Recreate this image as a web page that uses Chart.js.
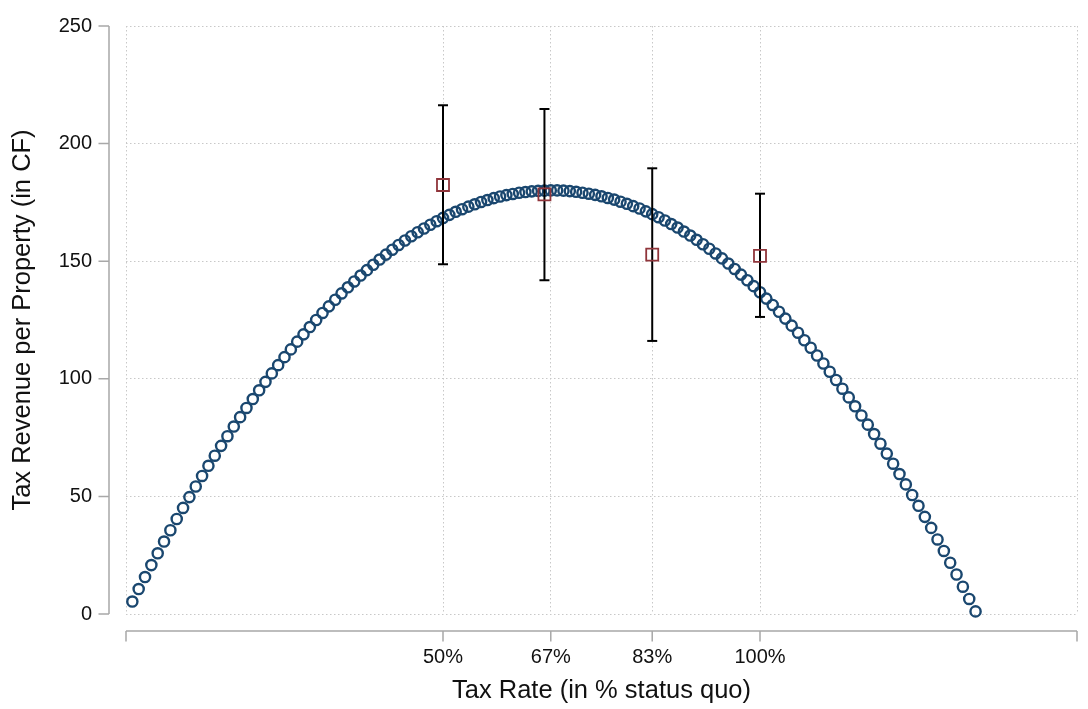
<!DOCTYPE html>
<html lang="en">
<head>
    <meta charset="UTF-8">
    <title>Tax Revenue vs Tax Rate</title>
    <script src="https://cdn.jsdelivr.net/npm/chart.js"></script>
    <style>
        html, body {
            margin: 0;
            padding: 0;
            background: #fff;
        }
        .chart-container {
            position: relative;
            width: 1088px;
            height: 709px;
        }
    </style>
</head>
<body>

<div class="chart-container">
    <canvas id="myChart"></canvas>
</div>

<script>
    // predicted revenue curve (circles)
    const rateX = [
        1, 2, 3, 4, 5, 6, 7, 8, 9, 10,
        11, 12, 13, 14, 15, 16, 17, 18, 19, 20,
        21, 22, 23, 24, 25, 26, 27, 28, 29, 30,
        31, 32, 33, 34, 35, 36, 37, 38, 39, 40,
        41, 42, 43, 44, 45, 46, 47, 48, 49, 50,
        51, 52, 53, 54, 55, 56, 57, 58, 59, 60,
        61, 62, 63, 64, 65, 66, 67, 68, 69, 70,
        71, 72, 73, 74, 75, 76, 77, 78, 79, 80,
        81, 82, 83, 84, 85, 86, 87, 88, 89, 90,
        91, 92, 93, 94, 95, 96, 97, 98, 99, 100,
        101, 102, 103, 104, 105, 106, 107, 108, 109, 110,
        111, 112, 113, 114, 115, 116, 117, 118, 119, 120,
        121, 122, 123, 124, 125, 126, 127, 128, 129, 130,
        131, 132, 133, 134
    ];
    const revenueY = [
        5.3, 10.6, 15.7, 20.8, 25.8, 30.8, 35.6, 40.4, 45.1, 49.7,
        54.2, 58.7, 63.0, 67.3, 71.5, 75.6, 79.7, 83.7, 87.6, 91.4,
        95.1, 98.7, 102.3, 105.8, 109.2, 112.5, 115.8, 118.9, 122.0, 125.0,
        128.0, 130.8, 133.6, 136.3, 138.9, 141.4, 143.9, 146.2, 148.5, 150.7,
        152.8, 154.9, 156.9, 158.8, 160.6, 162.3, 163.9, 165.5, 167.0, 168.4,
        169.7, 171.0, 172.1, 173.2, 174.2, 175.2, 176.0, 176.8, 177.5, 178.1,
        178.6, 179.1, 179.4, 179.7, 179.9, 180.0, 180.1, 180.1, 180.0, 179.8,
        179.5, 179.1, 178.7, 178.2, 177.6, 176.9, 176.2, 175.3, 174.4, 173.4,
        172.4, 171.2, 170.0, 168.7, 167.3, 165.8, 164.3, 162.6, 160.9, 159.1,
        157.2, 155.3, 153.3, 151.2, 149.0, 146.7, 144.3, 141.9, 139.4, 136.8,
        134.1, 131.4, 128.5, 125.6, 122.6, 119.6, 116.4, 113.2, 109.9, 106.5,
        103.0, 99.5, 95.8, 92.1, 88.3, 84.4, 80.5, 76.5, 72.4, 68.2,
        63.9, 59.5, 55.1, 50.6, 46.0, 41.3, 36.6, 31.7, 26.8, 21.8,
        16.8, 11.6, 6.4, 1.1
    ];

    // estimates with confidence intervals (squares + bars)
    const estRate = [50, 66, 83, 100];
    const estRevenue = [182.4, 178.4, 152.8, 152.3];
    const ciLow = [148.7, 141.9, 116.1, 126.3];
    const ciHigh = [216.3, 214.7, 189.5, 178.7];

    // axis ticks
    const xTicks = [0, 50, 67, 83, 100, 150];
    const xTickLabels = ['', '50%', '67%', '83%', '100%', ''];
    const yTicks = [0, 50, 100, 150, 200, 250];

    const navy = '#1a476f';
    const maroon = '#90353b';
    const gridColor = '#c8c8c8';
    const axisColor = '#a8a8a8';
    const textColor = '#111';
    const fontFamily = "'Liberation Sans', Arial, Helvetica, sans-serif";

    // Stata-style axes, drawn a little away from the plot region
    const axisLines = {
        id: 'axisLines',
        beforeDatasetsDraw(chart) {
            const { ctx, scales: { x, y } } = chart;
            const gap = 17;
            const tickLen = 10.5;
            ctx.save();
            ctx.strokeStyle = axisColor;
            ctx.lineWidth = 1.5;
            ctx.beginPath();

            const ax = x.left - gap;
            ctx.moveTo(ax, y.getPixelForValue(y.max));
            ctx.lineTo(ax, y.getPixelForValue(y.min));
            yTicks.forEach(v => {
                const py = y.getPixelForValue(v);
                ctx.moveTo(ax - tickLen, py);
                ctx.lineTo(ax, py);
            });

            const ay = y.bottom + gap;
            ctx.moveTo(x.getPixelForValue(x.min), ay);
            ctx.lineTo(x.getPixelForValue(x.max), ay);
            xTicks.forEach(v => {
                const px = x.getPixelForValue(v);
                ctx.moveTo(px, ay);
                ctx.lineTo(px, ay + tickLen);
            });

            ctx.stroke();
            ctx.restore();
        }
    };

    // keep the plot area where the original has it
    function noScalePadding(scale) {
        scale.paddingTop = 0;
        scale.paddingBottom = 0;
        scale.paddingLeft = 0;
        scale.paddingRight = 0;
    }

    const curveData = rateX.map((r, i) => ({ x: r, y: revenueY[i] }));
    const estData = estRate.map((r, i) => ({ x: r, y: estRevenue[i] }));

    const errorBars = estRate.map((r, i) => ({
        data: [{ x: r, y: ciLow[i] }, { x: r, y: ciHigh[i] }],
        showLine: true,
        borderColor: '#000',
        borderWidth: 2,
        pointStyle: 'line',
        pointRadius: 5,
        pointHoverRadius: 5,
        pointBorderWidth: 2,
        pointBorderColor: '#000',
        order: 1,
        clip: 10
    }));

    const ctx = document.getElementById('myChart').getContext('2d');

    new Chart(ctx, {
        type: 'scatter',
        data: {
            datasets: [
                {
                    data: estData,
                    pointStyle: 'rect',
                    pointRadius: 8.5,
                    pointHoverRadius: 8.5,
                    pointBorderWidth: 1.8,
                    pointBorderColor: maroon,
                    pointBackgroundColor: 'rgba(0,0,0,0)',
                    order: 0,
                    clip: 10
                },
                ...errorBars,
                {
                    data: curveData,
                    pointStyle: 'circle',
                    pointRadius: 5.1,
                    pointHoverRadius: 5.1,
                    pointBorderWidth: 2.4,
                    pointBorderColor: navy,
                    pointBackgroundColor: 'rgba(0,0,0,0)',
                    order: 2,
                    clip: 10
                }
            ]
        },
        options: {
            responsive: true,
            maintainAspectRatio: false,
            animation: false,
            events: [],
            layout: {
                autoPadding: false,
                padding: { top: 26, right: 11, bottom: 0, left: 0 }
            },
            plugins: {
                legend: { display: false },
                tooltip: { enabled: false }
            },
            scales: {
                x: {
                    type: 'linear',
                    min: 0,
                    max: 150,
                    afterBuildTicks: scale => {
                        scale.ticks = xTicks.map(v => ({ value: v }));
                    },
                    afterFit: scale => {
                        scale.height = 95;
                        noScalePadding(scale);
                    },
                    ticks: {
                        autoSkip: false,
                        maxRotation: 0,
                        padding: 31,
                        color: textColor,
                        font: { family: fontFamily, size: 20 },
                        callback: value => xTickLabels[xTicks.indexOf(value)]
                    },
                    grid: {
                        color: gridColor,
                        lineWidth: 1,
                        drawTicks: false
                    },
                    border: { display: false, dash: [1.5, 2.5] },
                    title: {
                        display: true,
                        text: 'Tax Rate (in % status quo)',
                        color: textColor,
                        font: { family: fontFamily, size: 25.5 },
                        padding: { top: 0, bottom: 3 }
                    }
                },
                y: {
                    type: 'linear',
                    min: 0,
                    max: 250,
                    afterBuildTicks: scale => {
                        scale.ticks = yTicks.map(v => ({ value: v }));
                    },
                    afterFit: scale => {
                        scale.width = 126;
                        noScalePadding(scale);
                    },
                    ticks: {
                        padding: 34,
                        color: textColor,
                        font: { family: fontFamily, size: 20 }
                    },
                    grid: {
                        color: gridColor,
                        lineWidth: 1,
                        drawTicks: false
                    },
                    border: { display: false, dash: [1.5, 2.5] },
                    title: {
                        display: true,
                        text: 'Tax Revenue per Property (in CF)',
                        color: textColor,
                        font: { family: fontFamily, size: 25.5 },
                        padding: { top: 8, bottom: 0 }
                    }
                }
            }
        },
        plugins: [axisLines]
    });
</script>

</body>
</html>
